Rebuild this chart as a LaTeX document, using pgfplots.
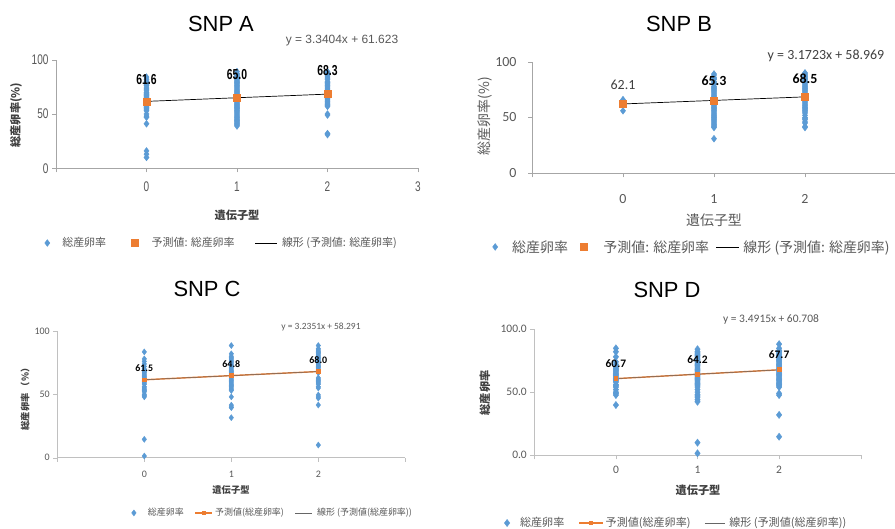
\documentclass[border=0pt]{standalone}
\usepackage{fontspec}
\usepackage{pgfplots}
\pgfplotsset{compat=1.18}
\setmainfont{Noto Sans CJK JP}
\newfontfamily\arial{Liberation Sans}
\newfontfamily\narrow[FakeStretch=0.72]{Liberation Sans}
\newfontfamily\carl{Carlito}
\definecolor{myblue}{HTML}{5B9BD5}
\definecolor{myorange}{HTML}{ED7D31}
\definecolor{axgray}{HTML}{A6A6A6}
\definecolor{axlight}{HTML}{C0C0C0}
\definecolor{txtgray}{HTML}{595959}
\definecolor{dark}{HTML}{404040}
\pgfplotsset{
  snp/.style={
    scale only axis, clip=false,
    xmin=-1, xmax=3, ymin=0, ymax=100,
    axis x line*=bottom, axis y line*=left,
    tick align=outside, major tick length=4bp,
    xtick={-1,0,1,2,3}, ytick={0,50,100},
    /pgf/number format/assume math mode=true,
    legend cell align=left, legend columns=3,
  },
  scat/.style={only marks, mark=diamond*, mark size=#1, color=myblue, mark options={fill=myblue, draw=myblue}},
  legmark/.style 2 args={legend image code/.code={\path[draw=none,fill=none] (0bp,0bp) -- (#1,0bp); \draw[##1] plot[only marks] coordinates {(#2,0bp)};}},
  legline/.style 2 args={legend image code/.code={\path[draw=none,fill=none] (0bp,0bp) -- (#1,0bp); \draw[##1] (0bp,0bp) -- (#2,0bp);}},
  leglinemark/.style 2 args={legend image code/.code={\path[draw=none,fill=none] (0bp,0bp) -- (#1,0bp); \draw[##1, mark repeat=2, mark phase=2] plot coordinates {(0bp,0bp) (#2/2,0bp) (#2,0bp)};}},
}
\begin{document}
\begin{tikzpicture}
\fill[white] (0,0) rectangle (895bp,529bp);
\useasboundingbox (0,0) rectangle (895bp,529bp);

% ---------------- SNP A ----------------
\begin{axis}[snp, at={(56bp,360.7bp)}, anchor=south west, width=362bp, height=108.6bp,
  xticklabels={,0,1,2,3},
  axis line style={draw=axgray}, major tick style={draw=axgray},
  ticklabel style={font=\narrow\fontsize{14}{14}\selectfont, text=txtgray},
  xticklabel style={yshift=-6bp},
  legend style={at={(axis description cs:-0.048,-0.688)}, anchor=west, draw=none, fill=none, inner sep=0pt,
    font=\fontsize{11}{12}\selectfont, text=txtgray,
    /tikz/every even column/.append style={column sep=18bp}},
]
\addplot[scat=3.4bp, legmark={21.5bp}{8.5bp}] coordinates {
(0,84) (0,82) (0,80) (0,79) (0,77) (0,76) (0,74) (0,73) (0,72) (0,70) (0,69) (0,68) (0,67) (0,66) (0,65) (0,64) (0,63) (0,62) (0,61) (0,60) (0,59) (0,58) (0,57) (0,56) (0,55) (0,54) (0,53) (0,50) (0,48) (0,47) (0,41) (0,16) (0,13) (0,10)
(1,89) (1,87) (1,86) (1,85) (1,84) (1,82) (1,81) (1,80) (1,79) (1,78) (1,77) (1,76) (1,75) (1,74) (1,73) (1,72) (1,71) (1,70) (1,69) (1,68) (1,67) (1,66) (1,65) (1,64) (1,63) (1,62) (1,61) (1,60) (1,59) (1,58) (1,57) (1,56) (1,55) (1,54) (1,53) (1,52) (1,51) (1,50) (1,49) (1,48) (1,47) (1,46) (1,45) (1,44) (1,43) (1,42) (1,41) (1,40) (1,39)
(2,89) (2,88) (2,86) (2,85) (2,84) (2,83) (2,82) (2,80) (2,79) (2,78) (2,77) (2,76) (2,75) (2,74) (2,73) (2,72) (2,71) (2,70) (2,69) (2,68) (2,67) (2,66) (2,65) (2,64) (2,63) (2,62) (2,61) (2,60) (2,59) (2,58) (2,57) (2,50) (2,49) (2,32) (2,31)
};
\addlegendentry{総産卵率}
\addplot[only marks, mark=square*, mark size=3.5bp, color=myorange, legmark={23.5bp}{8.5bp}] coordinates {(0,61.6) (1,65.0) (2,68.3)};
\addlegendentry{予測値: 総産卵率}
\addplot[black, line width=0.7bp, no marks, legline={25bp}{22bp}] coordinates {(0,61.623) (2,68.304)};
\addlegendentry{線形 (予測値: 総産卵率)}
\coordinate (a0) at (axis cs:0,82);
\coordinate (a1) at (axis cs:1,86);
\coordinate (a2) at (axis cs:2,89.6);
\end{axis}

% ---------------- SNP B ----------------
\begin{axis}[snp, at={(532bp,355.7bp)}, anchor=south west, width=364bp, height=111.6bp,
  xticklabels={,0,1,2,},
  axis line style={draw=axgray}, major tick style={draw=axgray},
  ticklabel style={font=\carl\fontsize{14}{14}\selectfont, text=txtgray},
  xticklabel style={yshift=-14bp}, yticklabel style={xshift=-8bp},
  legend style={at={(axis description cs:-0.125,-0.660)}, anchor=west, draw=none, fill=none, inner sep=0pt,
    font=\fontsize{14}{15}\selectfont, text=txtgray,
    /tikz/every even column/.append style={column sep=5bp}},
]
\addplot[scat=3.4bp, legmark={23.5bp}{8.5bp}] coordinates {
(0,66) (0,63) (0,56)
(1,89) (1,88) (1,86) (1,85) (1,84) (1,82) (1,81) (1,80) (1,78) (1,77) (1,76) (1,75) (1,74) (1,73) (1,72) (1,71) (1,70) (1,69) (1,68) (1,67) (1,66) (1,65) (1,64) (1,63) (1,62) (1,61) (1,60) (1,59) (1,58) (1,57) (1,56) (1,55) (1,54) (1,53) (1,52) (1,51) (1,50) (1,49) (1,48) (1,47) (1,46) (1,45) (1,44) (1,43) (1,42) (1,41) (1,31)
(2,90) (2,89) (2,88) (2,87) (2,86) (2,85) (2,84) (2,83) (2,82) (2,81) (2,80) (2,79) (2,78) (2,77) (2,76) (2,75) (2,74) (2,73) (2,72) (2,71) (2,70) (2,69) (2,68) (2,67) (2,66) (2,65) (2,64) (2,63) (2,62) (2,61) (2,60) (2,59) (2,58) (2,57) (2,56) (2,55) (2,54) (2,52) (2,50) (2,49) (2,48) (2,46) (2,45) (2,42) (2,41)
};
\addlegendentry{総産卵率}
\addplot[only marks, mark=square*, mark size=3.5bp, color=myorange, legmark={26.5bp}{8.5bp}] coordinates {(0,62.1) (1,65.3) (2,68.5)};
\addlegendentry{予測値: 総産卵率}
\addplot[black, line width=0.7bp, no marks, legline={25bp}{23bp}] coordinates {(0,62.141) (2,68.486)};
\addlegendentry{線形 (予測値: 総産卵率)}
\coordinate (b0) at (axis cs:0,79);
\coordinate (b1) at (axis cs:1,82.7);
\coordinate (b2) at (axis cs:2,84.5);
\end{axis}

% ---------------- SNP C ----------------
\begin{axis}[snp, at={(57.3bp,71.3bp)}, anchor=south west, width=348bp, height=126.7bp,
  xticklabels={,0,1,2,},
  axis line style={draw=axlight}, major tick style={draw=axlight},
  ticklabel style={font=\carl\fontsize{10}{10}\selectfont, text=txtgray},
  xticklabel style={yshift=-6bp},
  legend style={at={(axis description cs:0.198,-0.436)}, anchor=west, draw=none, fill=none, inner sep=0pt,
    font=\fontsize{9}{10}\selectfont, text=txtgray,
    /tikz/every even column/.append style={column sep=9bp}},
]
\addplot[scat=3bp, legmark={19.5bp}{7.5bp}] coordinates {
(0,83.5) (0,78) (0,76) (0,74) (0,72) (0,70) (0,69) (0,68) (0,67) (0,66) (0,65) (0,64) (0,63) (0,62) (0,61) (0,60) (0,59) (0,58) (0,56) (0,55) (0,54) (0,53) (0,52) (0,50) (0,49) (0,48) (0,14.5) (0,1.3)
(1,88.5) (1,82) (1,80) (1,79) (1,78) (1,77) (1,76) (1,75) (1,74) (1,73) (1,72) (1,71) (1,70) (1,69) (1,68) (1,67) (1,66) (1,65) (1,64) (1,63) (1,62) (1,61) (1,60) (1,59) (1,58) (1,57) (1,56) (1,55) (1,54) (1,53) (1,48) (1,41.5) (1,40) (1,39.5) (1,31.6)
(2,88.5) (2,86) (2,85) (2,84) (2,83) (2,82) (2,81) (2,80) (2,79) (2,78) (2,77) (2,76) (2,75) (2,74) (2,73) (2,72) (2,71) (2,70) (2,68) (2,67) (2,63) (2,62) (2,61) (2,60) (2,59) (2,58) (2,56) (2,55) (2,49.5) (2,48) (2,47) (2,41.6) (2,10)
};
\addlegendentry{総産卵率}
\addplot[myorange, line width=1.4bp, mark=square*, mark size=1.5bp, mark options={fill=myorange}, leglinemark={17bp}{17bp}] coordinates {(0,61.5) (1,64.8) (2,68.0)};
\addlegendentry{予測値(総産卵率)}
\addplot[black!60, line width=0.5bp, no marks, legline={20bp}{17bp}] coordinates {(0,61.526) (2,67.996)};
\addlegendentry{線形 (予測値(総産卵率))}
\coordinate (c0) at (axis cs:0,70.8);
\coordinate (c1) at (axis cs:1,74);
\coordinate (c2) at (axis cs:2,77);
\end{axis}

% ---------------- SNP D ----------------
\begin{axis}[snp, at={(534.3bp,73.7bp)}, anchor=south west, width=326.4bp, height=126.3bp,
  xticklabels={,0,1,2,}, yticklabels={0.0,50.0,100.0},
  axis line style={draw=axlight}, major tick style={draw=axlight},
  ticklabel style={font=\carl\fontsize{11.5}{12}\selectfont, text=txtgray},
  xticklabel style={yshift=-3bp},
  legend style={at={(axis description cs:-0.110,-0.536)}, anchor=west, draw=none, fill=none, inner sep=0pt,
    font=\fontsize{11.1}{12}\selectfont, text=txtgray,
    /tikz/every even column/.append style={column sep=12bp}},
]
\addplot[scat=3.6bp, legmark={19.5bp}{8.5bp}] coordinates {
(0,84.7) (0,82) (0,78) (0,74) (0,72) (0,70) (0,69) (0,68) (0,67) (0,66) (0,65) (0,64) (0,63) (0,62) (0,61) (0,60) (0,59) (0,58) (0,56) (0,55) (0,54) (0,52) (0,50) (0,49) (0,47.7) (0,39.8)
(1,84) (1,82) (1,81) (1,80) (1,79) (1,78) (1,77) (1,76) (1,75) (1,74) (1,73) (1,72) (1,71) (1,70) (1,69) (1,68) (1,67) (1,66) (1,65) (1,64) (1,63) (1,62) (1,61) (1,60) (1,59) (1,58) (1,57) (1,56) (1,55) (1,54) (1,52) (1,50) (1,48) (1,47) (1,46) (1,44) (1,42.4) (1,10) (1,1.6)
(2,88) (2,84.7) (2,83) (2,82) (2,81) (2,80) (2,79) (2,78) (2,77) (2,76) (2,75) (2,74) (2,73) (2,72) (2,71) (2,70) (2,69) (2,68) (2,67) (2,66) (2,65) (2,64) (2,63) (2,62) (2,61) (2,60) (2,59) (2,58) (2,57) (2,56) (2,55) (2,54) (2,49) (2,47.7) (2,32) (2,14.7)
};
\addlegendentry{総産卵率}
\addplot[myorange, line width=1.4bp, mark=square*, mark size=1.7bp, mark options={fill=myorange}, leglinemark={24.5bp}{24bp}] coordinates {(0,60.7) (1,64.2) (2,67.7)};
\addlegendentry{予測値(総産卵率)}
\addplot[black!60, line width=0.5bp, no marks, legline={22.5bp}{20bp}] coordinates {(0,60.708) (2,67.691)};
\addlegendentry{線形 (予測値(総産卵率))}
\coordinate (d0) at (axis cs:0,72.3);
\coordinate (d1) at (axis cs:1,75.5);
\coordinate (d2) at (axis cs:2,79.4);
\end{axis}

% ---------------- data labels (on top) ----------------
\node[font=\narrow\bfseries\fontsize{14.5}{14}\selectfont] at (a0) {61.6};
\node[font=\narrow\bfseries\fontsize{14.5}{14}\selectfont] at (a1) {65.0};
\node[font=\narrow\bfseries\fontsize{14.5}{14}\selectfont] at (a2) {68.3};
\node[font=\carl\fontsize{14}{14}\selectfont, text=dark] at (b0) {62.1};
\node[font=\carl\bfseries\fontsize{14}{14}\selectfont] at (b1) {65.3};
\node[font=\carl\bfseries\fontsize{14}{14}\selectfont] at (b2) {68.5};
\node[font=\carl\bfseries\fontsize{10}{10}\selectfont] at (c0) {61.5};
\node[font=\carl\bfseries\fontsize{10}{10}\selectfont] at (c1) {64.8};
\node[font=\carl\bfseries\fontsize{10}{10}\selectfont] at (c2) {68.0};
\node[font=\carl\bfseries\fontsize{11.5}{12}\selectfont] at (d0) {60.7};
\node[font=\carl\bfseries\fontsize{11.5}{12}\selectfont] at (d1) {64.2};
\node[font=\carl\bfseries\fontsize{11.5}{12}\selectfont] at (d2) {67.7};

% ---------------- titles, equations, axis labels ----------------
\node[font=\arial\fontsize{22}{24}\selectfont] at (221bp,505bp) {SNP A};
\node[font=\arial\fontsize{22}{24}\selectfont] at (679bp,505.5bp) {SNP B};
\node[font=\arial\fontsize{22}{24}\selectfont] at (207bp,240bp) {SNP C};
\node[font=\arial\fontsize{22}{24}\selectfont] at (667bp,239bp) {SNP D};

\node[font=\arial\fontsize{12}{12}\selectfont, text=txtgray] at (342bp,488.5bp) {y = 3.3404x + 61.623};
\node[font=\carl\fontsize{14}{14}\selectfont, text=dark] at (826bp,473bp) {y = 3.1723x + 58.969};
\node[font=\carl\fontsize{9.5}{10}\selectfont, text=txtgray] at (321bp,202bp) {y = 3.2351x + 58.291};
\node[font=\carl\fontsize{11.5}{12}\selectfont, text=txtgray] at (771bp,209bp) {y = 3.4915x + 60.708};

\node[font=\bfseries\fontsize{11.25}{12}\selectfont, text=dark] at (237bp,314bp) {遺伝子型};
\node[font=\bfseries\fontsize{11.25}{12}\selectfont, text=dark, rotate=90] at (16bp,414bp) {総産卵率(\%)};
\node[font=\fontsize{14}{15}\selectfont, text=txtgray] at (714bp,309bp) {遺伝子型};
\node[font=\fontsize{14}{15}\selectfont, text=txtgray, rotate=90] at (485bp,413bp) {総産卵率(\%)};
\node[font=\bfseries\fontsize{9.3}{10}\selectfont, text=dark] at (231bp,39bp) {遺伝子型};
\node[font=\bfseries\fontsize{9.3}{10}\selectfont, text=dark, rotate=90] at (25bp,132bp) {総産卵率 （\%）};
\node[font=\bfseries\fontsize{11.25}{12}\selectfont, text=dark] at (698bp,39bp) {遺伝子型};
\node[font=\bfseries\fontsize{11.25}{12}\selectfont, text=dark, rotate=90] at (485bp,136bp) {総産卵率};
\end{tikzpicture}
\end{document}
